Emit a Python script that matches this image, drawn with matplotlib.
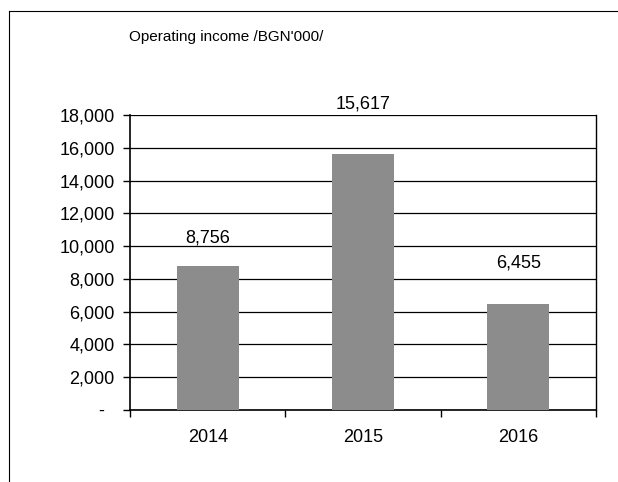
"""Operating income bar chart, redrawn from a scanned report page."""

import matplotlib

matplotlib.use("Agg")
import matplotlib.pyplot as plt
from matplotlib.lines import Line2D
from matplotlib.ticker import FuncFormatter, MultipleLocator

years = ["2014", "2015", "2016"]
income = [8756, 15617, 6455]
title = "Operating income /BGN'000/"

plt.rcParams["font.family"] = ["Liberation Sans", "DejaVu Sans"]


def thousands(value, _pos):
    if value == 0:
        return "-  "
    return f"{value:,.0f}"


fig = plt.figure(figsize=(6.18, 4.82), dpi=100)
ax = fig.add_axes([0.2104, 0.1494, 0.7540, 0.6120])

xs = range(len(years))
bars = ax.bar(xs, income, width=0.4, color="#8c8c8c", edgecolor="none", zorder=3)

# label offsets in points, as placed on the original page
label_offsets = [20.5, 36, 30]
for bar, value, dy in zip(bars, income, label_offsets):
    ax.annotate(
        f"{value:,}",
        (bar.get_x() + bar.get_width() / 2, bar.get_height()),
        xytext=(0, dy),
        textcoords="offset points",
        ha="center",
        va="center",
        fontsize=13,
    )

ax.set_xlim(-0.5, len(years) - 0.5)
ax.set_ylim(0, 18000)
ax.yaxis.set_major_locator(MultipleLocator(2000))
ax.yaxis.set_major_formatter(FuncFormatter(thousands))
ax.grid(axis="y", color="black", linewidth=0.9, zorder=0)

ax.set_xticks(list(xs))
ax.set_xticklabels(years)
ax.set_xticks([i + 0.5 for i in range(-1, len(years))], minor=True)
ax.tick_params(axis="x", which="major", length=0, pad=14, labelsize=13)
ax.tick_params(axis="x", which="minor", length=5, width=1, direction="out")
ax.tick_params(axis="y", length=5, width=1, direction="out", pad=6, labelsize=13)

ax.spines["top"].set_visible(False)
ax.spines["left"].set_linewidth(1.2)
ax.spines["bottom"].set_linewidth(1.2)
ax.spines["right"].set_linewidth(1.0)

fig.text(0.366, 0.923, title, ha="center", va="center", fontsize=11)

# outer frame of the chart object
fig.add_artist(Line2D([0.014, 0.014], [0.0, 0.977], transform=fig.transFigure, color="black", linewidth=0.8))
fig.add_artist(Line2D([0.014, 1.0], [0.977, 0.977], transform=fig.transFigure, color="black", linewidth=0.8))

fig.savefig("out.png", dpi=100)
